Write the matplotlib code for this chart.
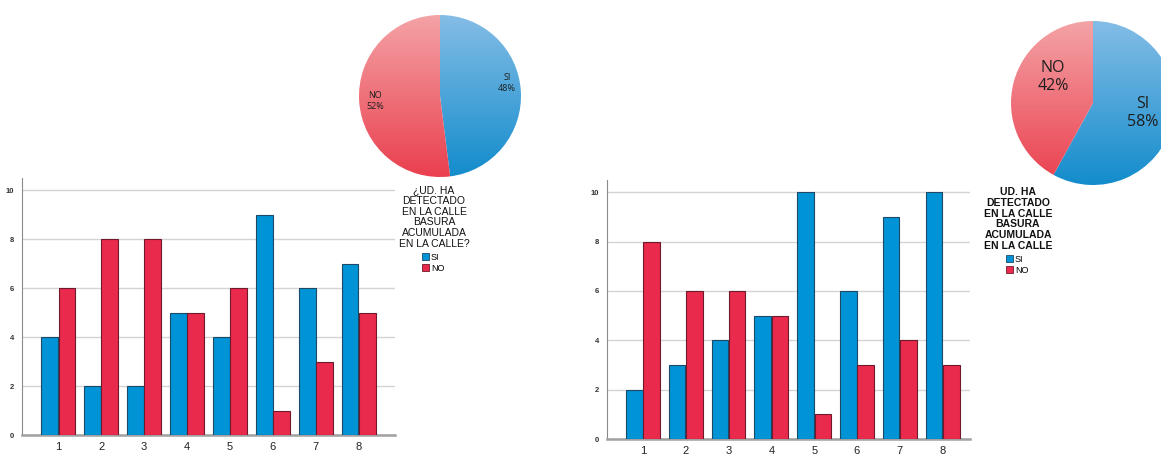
import numpy as np
import matplotlib.pyplot as plt
from matplotlib.colors import LinearSegmentedColormap
from matplotlib.patches import Patch

plt.rcParams['font.family'] = ['Liberation Sans', 'DejaVu Sans']

W, H = 1161, 458

# data
cats = [1, 2, 3, 4, 5, 6, 7, 8]
si_1 = [4, 2, 2, 5, 4, 9, 6, 7]
no_1 = [6, 8, 8, 5, 6, 1, 3, 5]
si_2 = [2, 3, 4, 5, 10, 6, 9, 10]
no_2 = [8, 6, 6, 5, 1, 3, 4, 3]
pie_1 = [48, 52]
pie_2 = [58, 42]
pie_labels = ['SI', 'NO']
title_1 = '¿UD. HA\nDETECTADO\nEN LA CALLE\nBASURA\nACUMULADA\nEN LA CALLE?'
title_2 = 'UD. HA\nDETECTADO\nEN LA CALLE\nBASURA\nACUMULADA\nEN LA CALLE'

BLUE = '#0093d5'
RED = '#ea2a4c'

fig = plt.figure(figsize=(W / 100, H / 100), dpi=100)


def px_axes(x0, y0, x1, y1):
    # axes from pixel box (top-left origin)
    return fig.add_axes([x0 / W, 1 - y1 / H, (x1 - x0) / W, (y1 - y0) / H])


def bars(ax, si, no, xlim):
    x = np.array(cats)
    w = 0.385
    ax.bar(x - w / 2 - 0.01, si, w, color=BLUE, edgecolor='#1d4a68', linewidth=0.8, zorder=3)
    ax.bar(x + w / 2 + 0.01, no, w, color=RED, edgecolor='#6e1a2c', linewidth=0.8, zorder=3)
    ax.set_xlim(*xlim)
    ax.set_ylim(0, 10.5)
    ax.set_yticks([0, 2, 4, 6, 8, 10])
    ax.set_xticks(x)
    ax.grid(axis='y', color='#d4d4d4', linewidth=1, zorder=0)
    for s in ['top', 'right']:
        ax.spines[s].set_visible(False)
    ax.spines['left'].set_color('#8a8a8a')
    ax.spines['bottom'].set_color('#a0a0a0')
    ax.spines['bottom'].set_linewidth(1.8)
    ax.tick_params(length=0)
    ax.tick_params(axis='y', labelsize=5.5, pad=6, labelcolor='#333333')
    ax.tick_params(axis='x', labelsize=8, pad=5, labelcolor='#222222')
    for t in ax.get_yticklabels():
        t.set_fontweight('bold')


def gradient_pie(cx, cy, r, vals, labels_fs, label_pos):
    ax = px_axes(cx - r, cy - r, cx + r, cy + r)
    ax.set_aspect('equal')
    wedges, _ = ax.pie(vals, startangle=90, counterclock=False,
                       colors=['none', 'none'], radius=1)
    grad = np.linspace(0, 1, 256).reshape(-1, 1)
    cmaps = [LinearSegmentedColormap.from_list('b', ['#84bde6', '#138ccc']),
             LinearSegmentedColormap.from_list('r', ['#f4a3a6', '#ea3f4e'])]
    for wdg, cm in zip(wedges, cmaps):
        # light at the top, darker towards the bottom
        im = ax.imshow(grad, extent=(-1, 1, -1, 1), origin='upper', cmap=cm,
                       aspect='auto', zorder=1)
        im.set_clip_path(wdg)
    ax.set_xlim(-1, 1)
    ax.set_ylim(-1, 1)
    ax.axis('off')
    for lab, v, (px, py) in zip(pie_labels, vals, label_pos):
        fig.text(px / W, 1 - py / H, f'{lab}\n{v}%', ha='center', va='center',
                 fontsize=labels_fs, family='Open Sans', color='#1e1e1e', linespacing=1.2)


def legend_block(xc, ytop, title, weight, fs):
    fig.text(xc / W, 1 - ytop / H, title, ha='center', va='top', fontsize=fs,
             fontweight=weight, linespacing=1.1, color='#111111')
    handles = [Patch(facecolor=BLUE, edgecolor='#1d4a68', linewidth=0.6),
               Patch(facecolor=RED, edgecolor='#6e1a2c', linewidth=0.6)]
    fig.legend(handles, ['SI', 'NO'], loc='upper left',
               bbox_to_anchor=((xc - 12) / W, 1 - (ytop + 68) / H),
               frameon=False, fontsize=6.5, handlelength=0.8, handleheight=0.8,
               handletextpad=0.2, labelspacing=0.2, borderpad=0, borderaxespad=0)


ax1 = px_axes(22, 178, 395, 435)
bars(ax1, si_1, no_1, (0.16, 8.84))

ax2 = px_axes(607, 180, 970, 439)
bars(ax2, si_2, no_2, (0.16, 8.64))

gradient_pie(440, 96, 81, pie_1, 6.5, [(507, 83), (375, 101)])
gradient_pie(1093, 103, 82, pie_2, 11.5, [(1143, 113), (1053, 77)])

legend_block(434, 185, title_1, 'normal', 7.5)
legend_block(1018, 187, title_2, 'bold', 7.5)

fig.savefig('out.png', dpi=100)
